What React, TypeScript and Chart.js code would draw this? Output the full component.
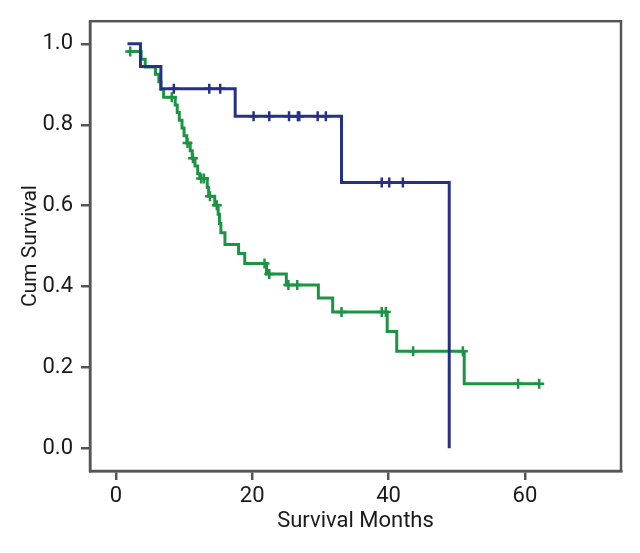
import React, { useEffect, useRef } from "react";
import { Chart, registerables } from "chart.js";

Chart.register(...registerables);

// Group 1 (blue) Kaplan-Meier steps
const blueTimes = [1.7, 3.6, 6.6, 17.5, 33.1, 48.9];
const blueSurv = [1.0, 0.944, 0.889, 0.821, 0.657, 0.0];
const blueCensor = [8.5, 13.7, 15.3, 20.2, 22.5, 25.4, 26.7, 26.9, 29.6, 30.8, 39.0, 40.1, 42.1];

// Group 2 (green) Kaplan-Meier steps
const greenTimes = [
  1.7, 3.7, 4.3, 5.8, 6.3, 6.6, 7.0, 8.7, 9.0, 9.3, 9.7, 10.0, 10.4, 10.9, 11.2, 11.6, 12.0,
  12.3, 13.4, 13.6, 14.5, 15.0, 15.2, 15.4, 16.0, 18.0, 18.9, 22.1, 25.0, 29.7, 31.8, 39.8,
  41.2, 51.1,
];
const greenSurv = [
  0.981, 0.962, 0.943, 0.925, 0.906, 0.887, 0.868, 0.849, 0.83, 0.811, 0.792, 0.773, 0.755,
  0.736, 0.717, 0.698, 0.679, 0.667, 0.645, 0.623, 0.601, 0.579, 0.556, 0.533, 0.504, 0.482,
  0.457, 0.431, 0.404, 0.372, 0.337, 0.289, 0.24, 0.16,
];
const greenEnd = 62.1;
const greenCensor = [
  2.1, 8.2, 10.5, 11.3, 12.5, 12.9, 13.8, 14.8, 21.8, 22.5, 25.3, 26.6, 33.1, 39.0, 39.6, 43.6,
  50.9, 59.0, 62.1,
];

const xTicks = [0, 20, 40, 60];
const yTicks = [0, 0.2, 0.4, 0.6, 0.8, 1.0];
const xTitle = "Survival Months";
const yTitle = "Cum Survival";

const BLUE = "#263087";
const GREEN = "#1c9443";
const FRAME = "#555555";
const FONT = "Roboto, 'Liberation Sans', sans-serif";

function survAt(times: number[], surv: number[], t: number) {
  let v = surv[0];
  for (let i = 0; i < times.length; i++) if (times[i] <= t) v = surv[i];
  return v;
}

const framePlugin = {
  id: "frame",
  afterDatasetsDraw(chart: any) {
    const { ctx, chartArea } = chart;
    ctx.save();
    ctx.strokeStyle = FRAME;
    ctx.lineWidth = 2.5;
    ctx.strokeRect(chartArea.left, chartArea.top, chartArea.right - chartArea.left, chartArea.bottom - chartArea.top);
    ctx.restore();
  },
};

export default function App() {
  const ref = useRef<HTMLCanvasElement | null>(null);
  useEffect(() => {
    if (!ref.current) return;
    const blueLine = blueTimes.map((t, i) => ({ x: t, y: blueSurv[i] }));
    const greenLine = greenTimes.map((t, i) => ({ x: t, y: greenSurv[i] }));
    greenLine.push({ x: greenEnd, y: greenSurv[greenSurv.length - 1] });
    const blueC = blueCensor.map((t) => ({ x: t, y: survAt(blueTimes, blueSurv, t) }));
    const greenC = greenCensor.map((t) => ({ x: t, y: survAt(greenTimes, greenSurv, t) }));

    const chart = new Chart(ref.current, {
      type: "line",
      data: {
        datasets: [
          {
            data: blueLine,
            borderColor: BLUE,
            borderWidth: 3,
            stepped: "before",
            pointRadius: 0,
            order: 0,
          },
          {
            data: blueC,
            showLine: false,
            pointStyle: "cross",
            pointRadius: 5,
            borderColor: BLUE,
            backgroundColor: BLUE,
            pointBorderWidth: 2.5,
            order: 0,
          },
          {
            data: greenLine,
            borderColor: GREEN,
            borderWidth: 3,
            stepped: "before",
            pointRadius: 0,
            order: 1,
          },
          {
            data: greenC,
            showLine: false,
            pointStyle: "cross",
            pointRadius: 5,
            borderColor: GREEN,
            backgroundColor: GREEN,
            pointBorderWidth: 2.5,
            order: 1,
          },
        ],
      },
      options: {
        animation: false,
        responsive: true,
        maintainAspectRatio: false,
        events: [],
        layout: { padding: { top: 19, right: 19, left: 18, bottom: 18 } },
        plugins: { legend: { display: false }, tooltip: { enabled: false } },
        scales: {
          x: {
            type: "linear",
            min: -3.8,
            max: 74.1,
            afterBuildTicks: (s: any) => {
              s.ticks = xTicks.map((v) => ({ value: v }));
            },
            afterFit: (s: any) => {
              s.height = 64;
            },
            grid: { drawOnChartArea: false, drawTicks: true, tickLength: 9, color: FRAME, lineWidth: 2.5 },
            border: { display: true, color: FRAME, width: 2.5 },
            ticks: { color: "#1a1a1a", font: { family: FONT, size: 22 }, padding: 3, maxRotation: 0 },
            title: {
              display: true,
              text: xTitle,
              color: "#1a1a1a",
              font: { family: FONT, size: 22 },
              padding: { top: 2, bottom: 0 },
            },
          },
          y: {
            type: "linear",
            min: -0.056,
            max: 1.056,
            afterBuildTicks: (s: any) => {
              s.ticks = yTicks.map((v) => ({ value: v }));
            },
            afterFit: (s: any) => {
              s.width = 72;
            },
            grid: { drawOnChartArea: false, drawTicks: true, tickLength: 9, color: FRAME, lineWidth: 2.5 },
            border: { display: true, color: FRAME, width: 2.5 },
            ticks: {
              color: "#1a1a1a",
              font: { family: FONT, size: 22 },
              padding: 8,
              callback: (v: any) => Number(v).toFixed(1),
            },
            title: {
              display: true,
              text: yTitle,
              color: "#1a1a1a",
              font: { family: FONT, size: 21 },
              padding: { top: 0, bottom: 4 },
            },
          },
        },
      },
      plugins: [framePlugin],
    });
    return () => chart.destroy();
  }, []);

  return (
    <div style={{ position: "fixed", left: 0, top: 0, width: 640, height: 553, background: "#fff" }}>
      <canvas ref={ref} />
    </div>
  );
}
